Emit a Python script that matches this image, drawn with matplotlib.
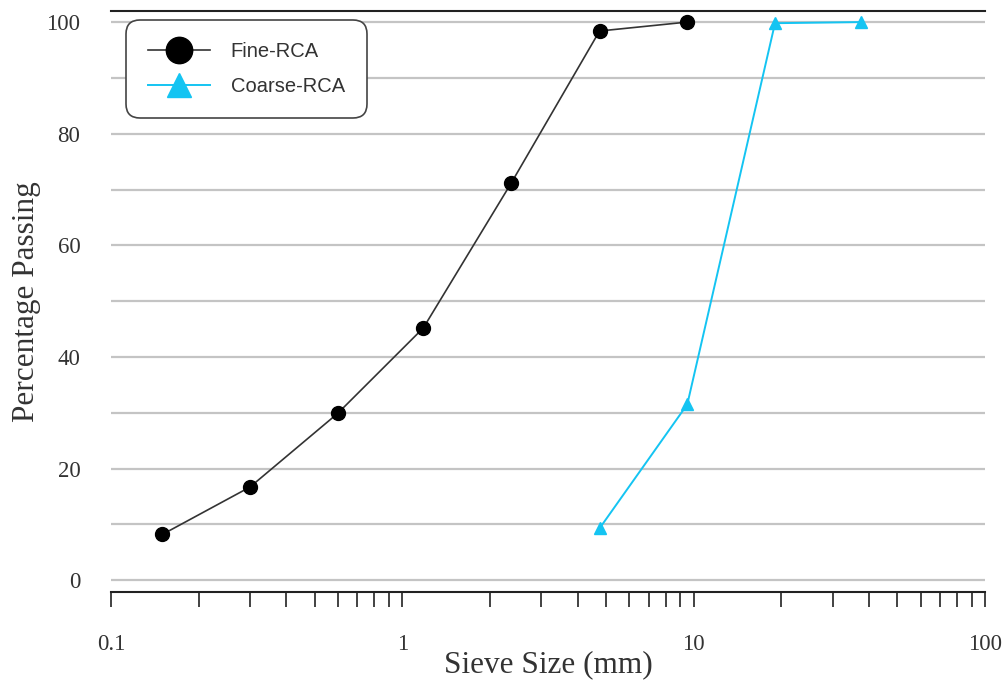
import matplotlib
matplotlib.use("Agg")
import matplotlib.pyplot as plt
from matplotlib.ticker import LogLocator, NullFormatter, FixedLocator

# sieve sizes (mm) and percentage passing
fine_sieve = [0.15, 0.3, 0.6, 1.18, 2.36, 4.75, 9.5]
fine_passing = [8.2, 16.7, 29.9, 45.2, 71.1, 98.4, 100.0]
coarse_sieve = [4.75, 9.5, 19.0, 37.5]
coarse_passing = [9.3, 31.5, 99.8, 100.0]

x_labels = ["0.1", "1", "10", "100"]
y_ticks = [0, 20, 40, 60, 80, 100]

serif = ["Liberation Serif", "DejaVu Serif"]
sans = ["Liberation Sans", "DejaVu Sans"]
cyan = "#14C4F2"

fig = plt.figure(figsize=(10.06, 6.82), dpi=100)
ax = fig.add_axes([0.1103, 0.132, 0.869, 0.852])

for g in range(0, 101, 10):
    ax.axhline(g, color="#c4c4c4", lw=1.6, zorder=1)

ax.plot(fine_sieve, fine_passing, color="#333333", lw=1.2, marker="o",
        markersize=10, markerfacecolor="black", markeredgecolor="black",
        label="Fine-RCA", zorder=3)
ax.plot(coarse_sieve, coarse_passing, color=cyan, lw=1.4, marker="^",
        markersize=9, markerfacecolor=cyan, markeredgecolor=cyan,
        label="Coarse-RCA", zorder=3)

ax.set_xscale("log")
ax.set_xlim(0.1, 100)
ax.set_ylim(-2.1, 102)

ax.xaxis.set_major_locator(FixedLocator([0.1, 1, 10, 100]))
ax.set_xticklabels(x_labels, fontfamily=serif, fontsize=16.5, color="#333333")
ax.xaxis.set_minor_locator(LogLocator(base=10, subs=range(2, 10)))
ax.xaxis.set_minor_formatter(NullFormatter())
ax.tick_params(axis="x", which="both", direction="out", length=11,
               width=1.2, color="#222222", pad=19)

ax.set_yticks(y_ticks)
ax.set_yticklabels([str(v) for v in y_ticks], fontfamily=serif,
                   fontsize=16.5, color="#333333")
ax.tick_params(axis="y", length=0, pad=22)

for side in ["left", "right"]:
    ax.spines[side].set_visible(False)
for side in ["top", "bottom"]:
    ax.spines[side].set_linewidth(1.5)
    ax.spines[side].set_color("#222222")

ax.set_xlabel("Sieve Size (mm)", fontfamily=serif, fontsize=22.5,
              color="#333333", labelpad=-3)
ax.set_ylabel("Percentage Passing", fontfamily=serif, fontsize=22.5,
              color="#333333", labelpad=4)

leg = ax.legend(loc="upper left", bbox_to_anchor=(0.017, 0.9845),
                borderaxespad=0, prop={"family": sans, "size": 14.5},
                markerscale=1.9, handlelength=3.1, handletextpad=1.0,
                borderpad=1.1, labelspacing=0.8,
                fancybox=True, framealpha=1, edgecolor="#444444")
leg.get_frame().set_linewidth(1.2)
leg.get_frame().set_boxstyle("round", pad=0, rounding_size=0.7)
for t in leg.get_texts():
    t.set_color("#333333")

fig.savefig("out.png", dpi=100)
